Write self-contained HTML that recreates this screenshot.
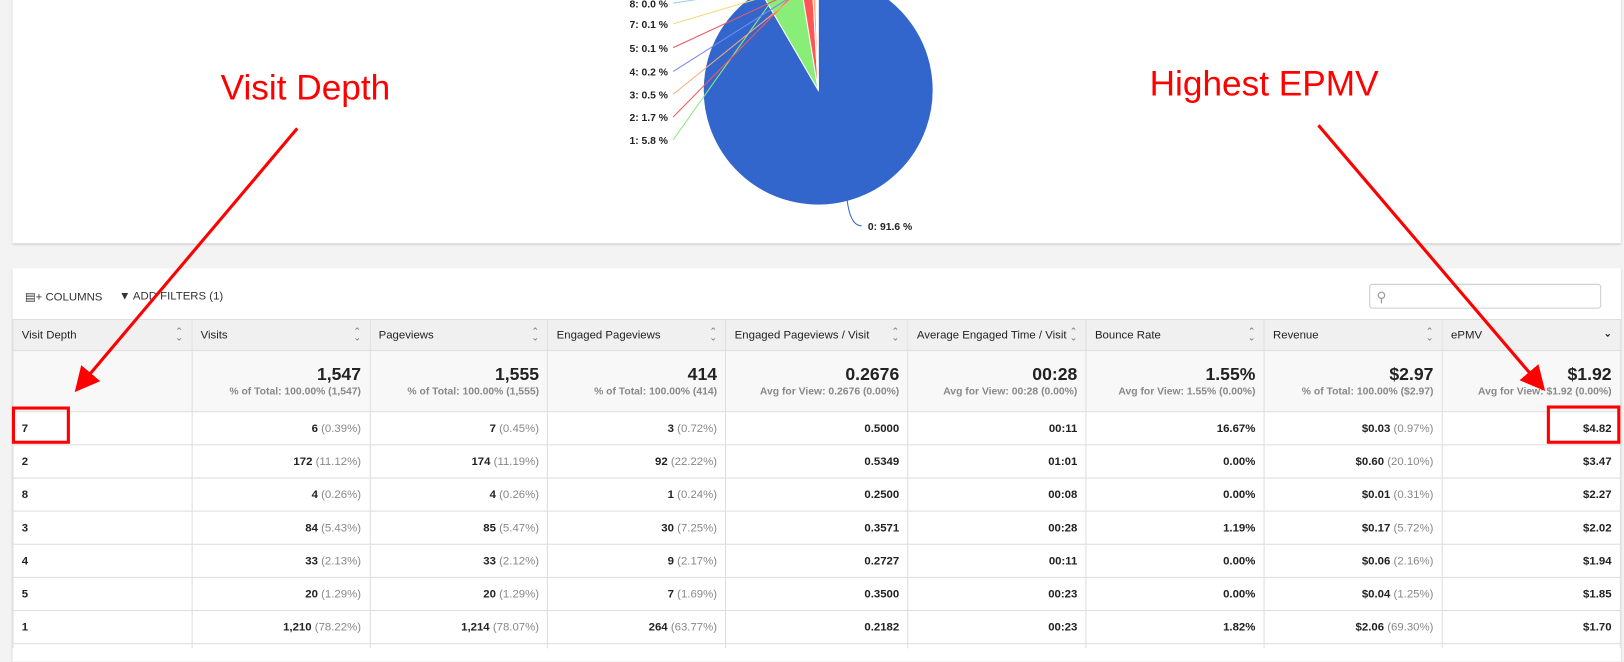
<!DOCTYPE html>
<html><head><meta charset="utf-8">
<style>
html,body{margin:0;padding:0;width:1624px;height:648px;overflow:hidden;background:#f3f3f3;font-family:"Liberation Sans",Arial,sans-serif;}
#wrap{position:absolute;left:0;top:0;width:1568px;height:626px;transform:scale(1.0357);transform-origin:0 0;}
.card{position:absolute;background:#fff;box-shadow:0 1px 2px rgba(0,0,0,.25);}
table{position:absolute;left:12px;top:308px;border-collapse:collapse;table-layout:fixed;font-size:11px;color:#222;}
td,th{border:1px solid #ddd;padding:0 8px;overflow:hidden;white-space:nowrap;}
th{height:29px;background:#f0f0f0;text-align:left;font-weight:normal;position:relative;color:#222;}
th .s{position:absolute;right:8px;top:8px;color:#777;font-size:9px;line-height:6px;}
tr.tot td{height:58px;background:#f8f8f8;text-align:right;vertical-align:middle;}
tr.tot b{font-size:17px;display:block;}
tr.tot span{font-size:10px;color:#888;font-weight:bold;}
tr.d td{height:31px;text-align:right;font-weight:bold;}
tr.d td:first-child{text-align:left;}
tr.d span{color:#888;font-weight:normal;}
.ann{position:absolute;color:#f00;font-size:34px;}
</style></head><body>
<div id="wrap">
<div class="card" style="left:12px;top:-5px;width:1553px;height:240px;"></div>
<svg style="position:absolute;left:0;top:0" width="1568" height="240" id="pie"></svg>
<div class="card" style="left:12px;top:259px;width:1553px;height:380px;"></div>
<div style="position:absolute;left:24px;top:280px;font-size:11px;color:#333">&#9636;+ COLUMNS</div>
<div style="position:absolute;left:115px;top:280px;font-size:11px;color:#333">&#9660; ADD FILTERS (1)</div>
<div style="position:absolute;left:1322px;top:274px;width:224px;height:24px;border:1px solid #ccc;border-radius:3px;background:#fff;color:#999;font-size:13px;line-height:24px;padding-left:6px;box-sizing:border-box;">&#9906;</div>
<div style="position:absolute;left:12px;top:308px;width:1553px;height:318px;overflow:hidden">
<table style="left:0;top:0">
<colgroup><col style="width:173px"><col style="width:172px"><col style="width:172px"><col style="width:172px"><col style="width:176px"><col style="width:172px"><col style="width:172px"><col style="width:172px"><col style="width:172px"></colgroup>
<tr>
<th>Visit Depth<span class="s">&#8963;<br>&#8964;</span></th>
<th>Visits<span class="s">&#8963;<br>&#8964;</span></th>
<th>Pageviews<span class="s">&#8963;<br>&#8964;</span></th>
<th>Engaged Pageviews<span class="s">&#8963;<br>&#8964;</span></th>
<th>Engaged Pageviews / Visit<span class="s">&#8963;<br>&#8964;</span></th>
<th>Average Engaged Time / Visit<span class="s">&#8963;<br>&#8964;</span></th>
<th>Bounce Rate<span class="s">&#8963;<br>&#8964;</span></th>
<th>Revenue<span class="s">&#8963;<br>&#8964;</span></th>
<th>ePMV<span class="s" style="top:10px;color:#222;font-weight:bold">&#8964;</span></th>
</tr>
<tr class="tot">
<td></td>
<td><b>1,547</b><span>% of Total: 100.00% (1,547)</span></td>
<td><b>1,555</b><span>% of Total: 100.00% (1,555)</span></td>
<td><b>414</b><span>% of Total: 100.00% (414)</span></td>
<td><b>0.2676</b><span>Avg for View: 0.2676 (0.00%)</span></td>
<td><b>00:28</b><span>Avg for View: 00:28 (0.00%)</span></td>
<td><b>1.55%</b><span>Avg for View: 1.55% (0.00%)</span></td>
<td><b>$2.97</b><span>% of Total: 100.00% ($2.97)</span></td>
<td><b>$1.92</b><span>Avg for View: $1.92 (0.00%)</span></td>
</tr>
<tr class="d"><td>7</td><td>6 <span>(0.39%)</span></td><td>7 <span>(0.45%)</span></td><td>3 <span>(0.72%)</span></td><td>0.5000</td><td>00:11</td><td>16.67%</td><td>$0.03 <span>(0.97%)</span></td><td>$4.82</td></tr>
<tr class="d"><td>2</td><td>172 <span>(11.12%)</span></td><td>174 <span>(11.19%)</span></td><td>92 <span>(22.22%)</span></td><td>0.5349</td><td>01:01</td><td>0.00%</td><td>$0.60 <span>(20.10%)</span></td><td>$3.47</td></tr>
<tr class="d"><td>8</td><td>4 <span>(0.26%)</span></td><td>4 <span>(0.26%)</span></td><td>1 <span>(0.24%)</span></td><td>0.2500</td><td>00:08</td><td>0.00%</td><td>$0.01 <span>(0.31%)</span></td><td>$2.27</td></tr>
<tr class="d"><td>3</td><td>84 <span>(5.43%)</span></td><td>85 <span>(5.47%)</span></td><td>30 <span>(7.25%)</span></td><td>0.3571</td><td>00:28</td><td>1.19%</td><td>$0.17 <span>(5.72%)</span></td><td>$2.02</td></tr>
<tr class="d"><td>4</td><td>33 <span>(2.13%)</span></td><td>33 <span>(2.12%)</span></td><td>9 <span>(2.17%)</span></td><td>0.2727</td><td>00:11</td><td>0.00%</td><td>$0.06 <span>(2.16%)</span></td><td>$1.94</td></tr>
<tr class="d"><td>5</td><td>20 <span>(1.29%)</span></td><td>20 <span>(1.29%)</span></td><td>7 <span>(1.69%)</span></td><td>0.3500</td><td>00:23</td><td>0.00%</td><td>$0.04 <span>(1.25%)</span></td><td>$1.85</td></tr>
<tr class="d"><td>1</td><td>1,210 <span>(78.22%)</span></td><td>1,214 <span>(78.07%)</span></td><td>264 <span>(63.77%)</span></td><td>0.2182</td><td>00:23</td><td>1.82%</td><td>$2.06 <span>(69.30%)</span></td><td>$1.70</td></tr>
<tr class="d"><td></td><td></td><td></td><td></td><td></td><td></td><td></td><td></td><td></td></tr>
</table>
</div>
<div class="ann" style="left:213px;top:66px">Visit Depth</div>
<div class="ann" style="left:1110px;top:62px">Highest EPMV</div>
<svg style="position:absolute;left:0;top:0" width="1568" height="626">
<defs><marker id="ah" markerWidth="8" markerHeight="8" refX="6" refY="4" orient="auto" markerUnits="strokeWidth"><path d="M0,0 L8,4 L0,8 z" fill="#f00"/></marker></defs>
<line x1="287" y1="124" x2="76" y2="374" stroke="#f00" stroke-width="3" marker-end="url(#ah)"/>
<line x1="1273" y1="121" x2="1488" y2="373" stroke="#f00" stroke-width="3" marker-end="url(#ah)"/>
<rect x="13" y="394" width="53" height="33" fill="none" stroke="#f00" stroke-width="3"/>
<rect x="1495" y="393" width="68" height="34" fill="none" stroke="#f00" stroke-width="3"/>
</svg>
</div>
<script>
const labels=["0","1","2","3","4","5","6","7","8"];
const values=[91.6,5.8,1.7,0.5,0.2,0.1,0.0,0.1,0.0];
const colors=["#3366cc","#88ee77","#ff5555","#ffaa77","#7788ee","#ee5566","#cccccc","#eedd77","#99ccee"];
const svg=document.getElementById('pie');
const NS="http://www.w3.org/2000/svg";
const cx=790,cy=87,r=111;
const total=values.reduce((a,b)=>a+b,0);
let a0=0;
const labY={"1":135,"2":113,"3":91,"4":69,"5":46,"7":23,"8":3};
values.forEach((v,i)=>{
  const a1=a0+v/total*2*Math.PI;
  if(v>0){
    const p=document.createElementNS(NS,'path');
    const x0=cx+r*Math.sin(a0),y0=cy-r*Math.cos(a0),x1=cx+r*Math.sin(a1),y1=cy-r*Math.cos(a1);
    p.setAttribute('d',`M${cx},${cy} L${x0},${y0} A${r},${r} 0 ${a1-a0>Math.PI?1:0} 1 ${x1},${y1} Z`);
    p.setAttribute('fill',colors[i]);p.setAttribute('stroke','#fff');p.setAttribute('stroke-width','1');
    
    
    svg.appendChild(p);
  }
  const am=(a0+a1)/2;
  const ex=cx+r*0.95*Math.sin(am),ey=cy-r*0.95*Math.cos(am);
  let tx,ty,anchor,lx,ly;
  if(i===0){tx=838;ty=222;anchor='start';lx=832;ly=218;}
  else{ty=(labY[labels[i]]!==undefined?labY[labels[i]]:-10)+4;tx=645;anchor='end';lx=650;ly=ty-4;}
  const ln=document.createElementNS(NS,'path');
  ln.setAttribute('d',i===0?`M${ex},${ey} Q${cx+30},${cy+r+20} ${lx},${ly}`:`M${ex},${ey} L${lx},${ly}`);
  ln.setAttribute('stroke',colors[i]);ln.setAttribute('fill','none');ln.setAttribute('stroke-width','1');
  
  
  svg.appendChild(ln);
  const t=document.createElementNS(NS,'text');
  t.setAttribute('x',tx);t.setAttribute('y',ty);t.setAttribute('text-anchor',anchor);
  t.setAttribute('font-size','10');t.setAttribute('font-weight','bold');t.setAttribute('fill','#222');
  t.setAttribute('font-family','Liberation Sans, sans-serif');
  t.textContent=labels[i]+': '+v.toFixed(1)+' %';
  
  
  svg.appendChild(t);
  a0=a1;
});
</script>
</body></html>
